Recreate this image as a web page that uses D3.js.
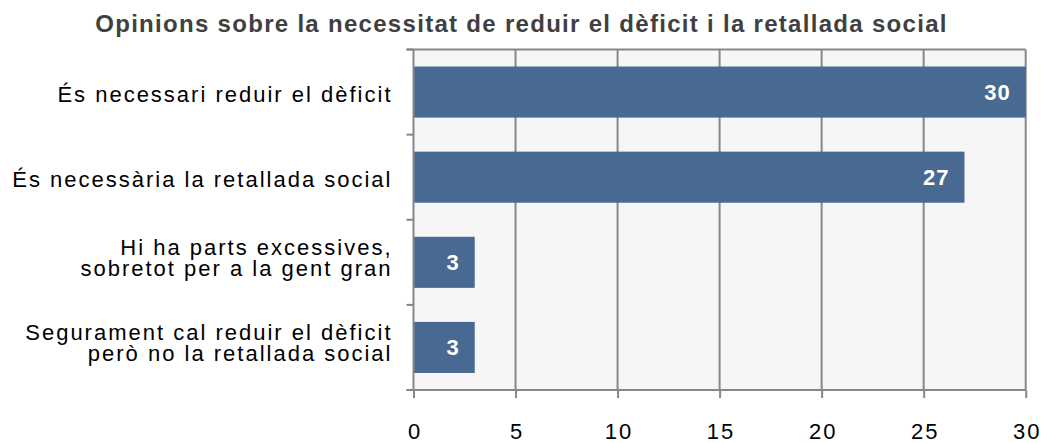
<!DOCTYPE html>
<html>
<head>
<meta charset="utf-8">
<script src="https://cdn.jsdelivr.net/npm/d3@7"></script>
<style>
  body { margin: 0; background: #fff; }
  svg { display: block; font-family: "Liberation Sans", Arial, sans-serif; }
</style>
</head>
<body>
<div id="chart"></div>
<script>
// Data
const title = "Opinions sobre la necessitat de reduir el dèficit i la retallada social";
const categories = [
  ["És necessari reduir el dèficit"],
  ["És necessària la retallada social"],
  ["Hi ha parts excessives,", "sobretot per a la gent gran"],
  ["Segurament cal reduir el dèficit", "però no la retallada social"]
];
const values = [30, 27, 3, 3];
const xTicks = [0, 5, 10, 15, 20, 25, 30];

// Options
const width = 1043, height = 443;
const margin = {top: 49.5, right: 17.3, bottom: 53, left: 413.5};
const barColor = "#486991";
const gridColor = "#878787";
const plotBg = "#f6f6f6";

const svg = d3.select("#chart").append("svg")
  .attr("width", width)
  .attr("height", height);

const x = d3.scaleLinear()
  .domain([0, 30])
  .range([margin.left, width - margin.right]);

const keys = categories.map((c, i) => i);
const y = d3.scaleBand()
  .domain(keys)
  .range([margin.top, height - margin.bottom])
  .paddingInner(0.4)
  .paddingOuter(0.2);
const step = y.step();

// Plot background
svg.append("rect")
  .attr("x", x(0))
  .attr("y", margin.top)
  .attr("width", x(30) - x(0))
  .attr("height", height - margin.bottom - margin.top)
  .attr("fill", plotBg);

// Vertical gridlines (include right edge)
svg.append("g")
  .selectAll("line")
  .data(xTicks.slice(1))
  .join("line")
    .attr("x1", d => x(d))
    .attr("x2", d => x(d))
    .attr("y1", margin.top)
    .attr("y2", height - margin.bottom)
    .attr("stroke", gridColor)
    .attr("stroke-width", 2);

// Top border
svg.append("line")
  .attr("x1", x(0) - 7)
  .attr("x2", x(30))
  .attr("y1", margin.top)
  .attr("y2", margin.top)
  .attr("stroke", gridColor)
  .attr("stroke-width", 2);

// Bars
svg.append("g")
  .selectAll("rect")
  .data(values)
  .join("rect")
    .attr("x", x(0))
    .attr("y", (d, i) => y(i))
    .attr("width", d => x(d) - x(0))
    .attr("height", y.bandwidth())
    .attr("fill", barColor);

// Bar labels
svg.append("g")
  .selectAll("text")
  .data(values)
  .join("text")
    .attr("x", d => x(d) - 15)
    .attr("y", (d, i) => y(i) + y.bandwidth() / 2)
    .attr("dy", "0.36em")
    .attr("text-anchor", "end")
    .attr("fill", "#fff")
    .attr("font-weight", "bold")
    .attr("font-size", "22px")
    .attr("letter-spacing", 1)
    .text(d => d);

// Left axis
const leftAxis = svg.append("g");
leftAxis.append("line")
  .attr("x1", x(0)).attr("x2", x(0))
  .attr("y1", margin.top).attr("y2", height - margin.bottom)
  .attr("stroke", gridColor).attr("stroke-width", 2);
leftAxis.selectAll("line.tick")
  .data(keys.concat([keys.length]))
  .join("line")
    .attr("class", "tick")
    .attr("x1", x(0) - 7).attr("x2", x(0))
    .attr("y1", i => margin.top + i * step)
    .attr("y2", i => margin.top + i * step)
    .attr("stroke", gridColor).attr("stroke-width", 2);

// Category labels
const lineHeight = 20.5;
leftAxis.selectAll("text")
  .data(categories)
  .join("text")
    .attr("text-anchor", "end")
    .attr("font-size", "22px")
    .attr("letter-spacing", 2)
    .attr("fill", "#000")
    .attr("transform", (d, i) => `translate(${x(0) - 21},${y(i) + y.bandwidth() / 2})`)
    .selectAll("tspan")
    .data(d => d.map((t, j) => ({t, j, n: d.length})))
    .join("tspan")
      .attr("x", 0)
      .attr("y", d => (d.j - (d.n - 1) / 2) * lineHeight + (d.n === 1 ? 10.2 : 3))
      .text(d => d.t);

// Bottom axis
svg.append("g")
  .attr("transform", `translate(0,${height - margin.bottom})`)
  .call(d3.axisBottom(x).tickValues(xTicks).tickSize(8).tickPadding(25).tickSizeOuter(0))
  .call(g => g.select(".domain").remove())
  .call(g => g.append("line")
    .attr("x1", x(0) - 7).attr("x2", x(30))
    .attr("stroke", gridColor).attr("stroke-width", 2))
  .call(g => g.selectAll(".tick line").attr("stroke", gridColor).attr("stroke-width", 2))
  .call(g => g.selectAll(".tick text")
    .attr("fill", "#000")
    .attr("font-size", "22px")
    .attr("letter-spacing", 2)
    .attr("dx", 1)
    .attr("font-family", "Liberation Sans, Arial, sans-serif"));

// Title
svg.append("text")
  .attr("x", width / 2)
  .attr("y", 32)
  .attr("text-anchor", "middle")
  .attr("font-weight", "bold")
  .attr("font-size", "24px")
  .attr("letter-spacing", 1.3)
  .attr("fill", "#404040")
  .text(title);
</script>
</body>
</html>
